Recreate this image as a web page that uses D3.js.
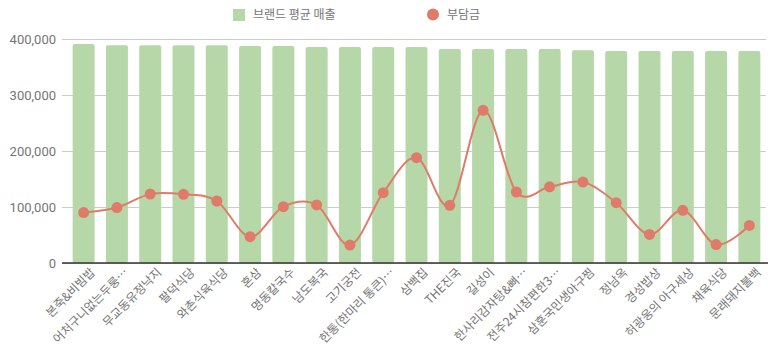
<!DOCTYPE html>
<html>
<head>
<meta charset="utf-8">
<script src="https://cdn.jsdelivr.net/npm/d3@7"></script>
<style>
  body { margin: 0; background: #fff; }
  text { font-family: Roboto, "Noto Sans CJK KR", sans-serif; }
</style>
</head>
<body>
<div id="chart"></div>
<script>
// brand names (x axis), as shown (truncated ones keep the ellipsis)
const brands = [
  "본죽&비빔밥", "어처구니없는두룽…", "무교동유정낙지", "팔덕식당", "와촌식육식당",
  "혼삼", "명동칼국수", "남도복국", "고기궁전", "한통(한마리 통큰)…",
  "삼백집", "THE진국", "길성이", "한사리감자탕&뼈…", "전주24시참편한3…",
  "삼훈국민생아구찜", "정남옥", "경성밥상", "허광웅의 아구세상", "채육식당", "문래돼지불백"
];
// 브랜드 평균 매출 (bars)
const avgSales = [
  391000, 389000, 389000, 389000, 389000, 387500, 387500, 385700, 385700, 385700,
  385700, 382000, 382000, 382000, 382000, 380000, 378500, 378500, 378500, 378500, 378500
];
// 부담금 (line)
const burden = [
  90000, 99000, 123000, 122700, 110700, 47000, 100600, 103600, 32000, 125600,
  188000, 103000, 272600, 126800, 136000, 144600, 107700, 51000, 94000, 33000, 67000
];
const yTicks = [0, 100000, 200000, 300000, 400000];
const seriesNames = ["브랜드 평균 매출", "부담금"];

const W = 770, H = 352;
const margin = { top: 39, right: 4, bottom: 89, left: 67 };
const width = W - margin.left - margin.right;
const height = H - margin.top - margin.bottom;

const barColor = "#b6d7a8";
const lineColor = "#e07b69";

const svg = d3.select("#chart").append("svg")
  .attr("width", W).attr("height", H);

const g = svg.append("g")
  .attr("transform", `translate(${margin.left}, ${margin.top})`);

const x = d3.scaleBand().domain(brands).range([0, width]).paddingInner(0.34).paddingOuter(0.17);
const y = d3.scaleLinear().domain([0, 400000]).range([height, 0]);

// gridlines + y labels
const yAxis = g.append("g")
  .call(d3.axisLeft(y).tickValues(yTicks).tickSize(-(width + 5)).tickFormat(d3.format(",")));
yAxis.attr("transform", "translate(-5,0)");
yAxis.select(".domain").remove();
yAxis.selectAll(".tick line").attr("stroke", "#cccccc");
yAxis.selectAll(".tick text")
  .attr("x", -6).attr("fill", "#757575").style("font-size", "13px");

// bars
g.selectAll(".bar")
  .data(brands)
  .join("rect")
  .attr("class", "bar")
  .attr("x", d => x(d))
  .attr("y", (d, i) => y(avgSales[i]))
  .attr("width", x.bandwidth())
  .attr("height", (d, i) => height - y(avgSales[i]))
  .attr("rx", 2)
  .attr("fill", barColor);

// baseline
g.append("line")
  .attr("x1", -5).attr("x2", width + 2)
  .attr("y1", height).attr("y2", height)
  .attr("stroke", "#333").attr("stroke-width", 1.5);

// line
const cx = (d, i) => x(brands[i]) + x.bandwidth() / 2;
g.append("path")
  .datum(burden)
  .attr("fill", "none")
  .attr("stroke", lineColor)
  .attr("stroke-width", 2)
  .attr("d", d3.line().x(cx).y(d => y(d)).curve(d3.curveCardinal.tension(0)));

g.selectAll(".dot")
  .data(burden)
  .join("circle")
  .attr("class", "dot")
  .attr("cx", cx)
  .attr("cy", d => y(d))
  .attr("r", 5.5)
  .attr("fill", lineColor);

// x labels
const xAxis = g.append("g")
  .attr("transform", `translate(0, ${height})`)
  .call(d3.axisBottom(x).tickSize(0));
xAxis.select(".domain").remove();
xAxis.selectAll(".tick text")
  .attr("fill", "#757575")
  .style("font-size", "12px")
  .style("font-family", "'Noto Sans CJK KR', sans-serif")
  .attr("text-anchor", "end")
  .attr("dy", "0.35em")
  .attr("transform", "translate(7, 5) rotate(-45)");

// legend
const legend = svg.append("g");
legend.append("rect")
  .attr("x", 233).attr("y", 9).attr("width", 12).attr("height", 12)
  .attr("fill", barColor);
legend.append("text")
  .attr("x", 253).attr("y", 19)
  .attr("fill", "#757575").style("font-size", "12px")
  .style("font-family", "'Noto Sans CJK KR', sans-serif")
  .text(seriesNames[0]);
legend.append("circle")
  .attr("cx", 433).attr("cy", 14.5).attr("r", 6)
  .attr("fill", lineColor);
legend.append("text")
  .attr("x", 447).attr("y", 19)
  .attr("fill", "#757575").style("font-size", "12px")
  .style("font-family", "'Noto Sans CJK KR', sans-serif")
  .text(seriesNames[1]);
</script>
</body>
</html>
